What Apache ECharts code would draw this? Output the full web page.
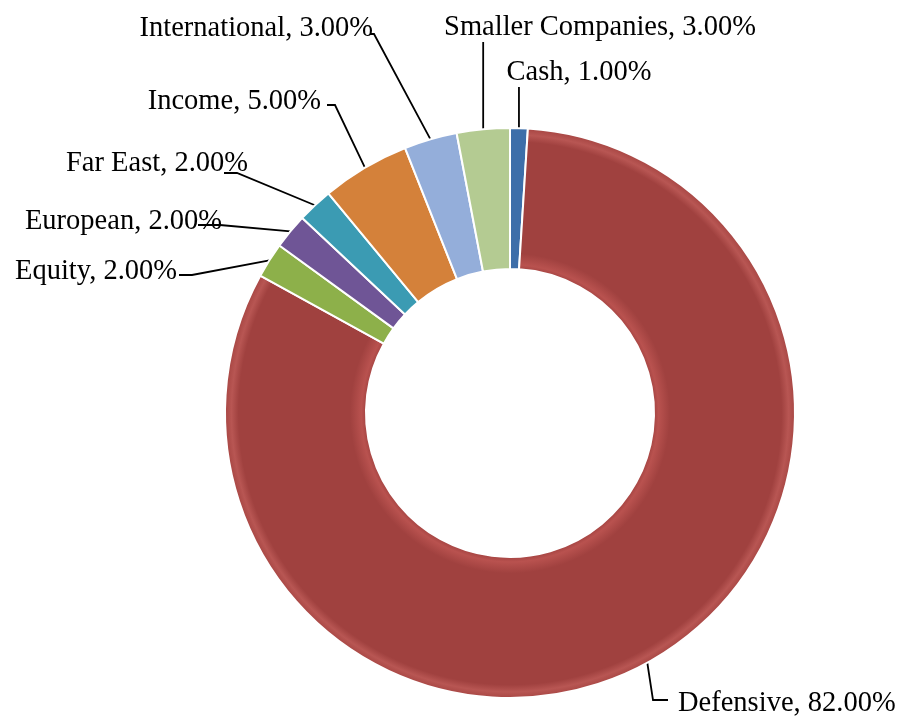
<!DOCTYPE html>
<html>
<head>
<meta charset="utf-8">
<script src="https://cdn.jsdelivr.net/npm/echarts@6/dist/echarts.min.js"></script>
<style>
html,body{margin:0;padding:0;background:#fff;}
#chart{width:901px;height:716px;}
</style>
</head>
<body>
<div id="chart"></div>
<script>
// ---- data ----
var categories = ['Cash', 'Defensive', 'Equity', 'European', 'Far East', 'Income', 'International', 'Smaller Companies'];
var values = [1, 82, 2, 2, 2, 5, 3, 3];
var colors = ['#3D6EA9', '#A0413F', '#8DB04A', '#6F5596', '#3B9BB3', '#D4813A', '#94AEDA', '#B4CB92'];

// label placement (layout only): [labelX, labelY, align, elbowX, elbowY, endX, endY]
var labelPlace = [
  [579, 73, 'center', null, 87, null, null],
  [678, 704, 'left', 653, 700, 668, 700],
  [177, 272, 'right', 192, 275, 179, 275],
  [222, 222, 'right', 220, 225, 198, 225],
  [248, 164, 'right', 237, 173, 224, 173],
  [321, 102, 'right', 335, 105, 327, 105],
  [373, 29, 'right', 374, 34, 370, 34],
  [600, 28, 'center', null, 42, null, null]
];

var pieData = categories.map(function (c, i) {
  var item = { name: c, value: values[i], itemStyle: { color: colors[i] } };
  if (c === 'Defensive') {
    item.itemStyle.color = new echarts.graphic.RadialGradient(0.5, 0.5, 0.5, [
      { offset: 0.50, color: '#A0413F' },
      { offset: 0.52, color: '#B9524F' },
      { offset: 0.56, color: '#A0413F' },
      { offset: 0.95, color: '#A0413F' },
      { offset: 0.975, color: '#B85653' },
      { offset: 1.0, color: '#A64542' }
    ]);
  }
  return item;
});

var chart = echarts.init(document.getElementById('chart'), null, { renderer: 'canvas' });
chart.setOption({
  animation: false,
  backgroundColor: '#ffffff',
  series: [{
    type: 'pie',
    center: [510, 413],
    radius: [144, 285],
    startAngle: 90,
    clockwise: true,
    avoidLabelOverlap: false,
    data: pieData,
    itemStyle: { borderColor: '#ffffff', borderWidth: 2 },
    label: {
      show: true,
      position: 'outside',
      color: '#000000',
      fontFamily: 'Liberation Serif, Times New Roman, serif',
      fontSize: 28.5,
      formatter: function (p) { return p.name + ', ' + p.value.toFixed(2) + '%'; }
    },
    labelLine: {
      show: true,
      length: 20,
      length2: 10,
      lineStyle: { color: '#000000', width: 1.8 }
    },
    labelLayout: function (params) {
      var lp = labelPlace[params.dataIndex];
      var pts = params.labelLinePoints;
      var a = pts ? pts[0] : [0, 0];
      var line;
      if (lp[3] === null) {
        line = [[a[0], a[1]], [a[0], lp[4]], [a[0], lp[4]]];
      } else {
        line = [[a[0], a[1]], [lp[3], lp[4]], [lp[5], lp[6]]];
      }
      return {
        x: lp[0],
        y: lp[1],
        align: lp[2],
        verticalAlign: 'middle',
        labelLinePoints: line
      };
    }
  }]
});
</script>
</body>
</html>
